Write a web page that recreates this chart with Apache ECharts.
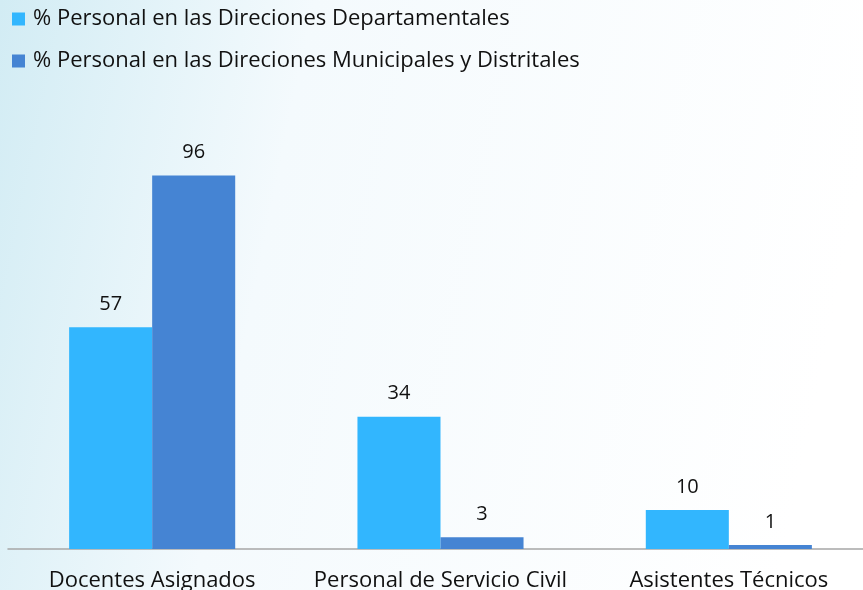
<!DOCTYPE html>
<html>
<head>
<meta charset="utf-8">
<script src="https://cdn.jsdelivr.net/npm/echarts@6/dist/echarts.min.js"></script>
<style>
  html, body { margin: 0; padding: 0; }
  #chart { width: 863px; height: 590px; }
</style>
</head>
<body>
<div id="chart"></div>
<script>
var categories = ['Docentes Asignados', 'Personal de Servicio Civil', 'Asistentes Técnicos']
var seriesNames = [
  '% Personal en las Direciones Departamentales',
  '% Personal en las Direciones Municipales y Distritales'
]
var departamentales = [57, 34, 10]
var municipales = [96, 3, 1]

var font = 'Open Sans'

var chart = echarts.init(document.getElementById('chart'))

chart.setOption({
  backgroundColor: new echarts.graphic.LinearGradient(0, 0, 1, 0.3, [
    { offset: 0, color: '#d2ecf4' },
    { offset: 0.35, color: '#f4fafd' },
    { offset: 1, color: '#ffffff' }
  ]),
  textStyle: { fontFamily: font },
  legend: {
    orient: 'vertical',
    left: 12,
    top: 8,
    padding: 0,
    icon: 'rect',
    itemWidth: 13,
    itemHeight: 13,
    itemGap: 20,
    textStyle: { fontSize: 22, color: '#111', fontFamily: font, padding: [0, 0, 0, 3] },
    data: seriesNames
  },
  grid: {
    left: 8,
    width: 865,
    top: 160,
    bottom: 41,
    containLabel: false,
    outerBoundsMode: 'none'
  },
  xAxis: {
    type: 'category',
    data: categories,
    axisLine: { lineStyle: { color: '#a6a6a6', width: 1.5 } },
    axisTick: { show: false },
    axisLabel: {
      interval: 0,
      hideOverlap: false,
      fontSize: 22,
      color: '#111',
      margin: 21,
      fontFamily: font
    }
  },
  yAxis: {
    type: 'value',
    min: 0,
    max: 100,
    show: false,
    splitLine: { show: false }
  },
  series: [
    {
      name: seriesNames[0],
      type: 'bar',
      data: departamentales,
      barWidth: '28.8%',
      barGap: '0%',
      itemStyle: { color: '#32b6fe' },
      label: { show: true, position: 'top', distance: 13, fontSize: 20, color: '#111', fontFamily: font }
    },
    {
      name: seriesNames[1],
      type: 'bar',
      data: municipales,
      barWidth: '28.8%',
      itemStyle: { color: '#4584d3' },
      label: { show: true, position: 'top', distance: 13, fontSize: 20, color: '#111', fontFamily: font }
    }
  ]
})
</script>
</body>
</html>
